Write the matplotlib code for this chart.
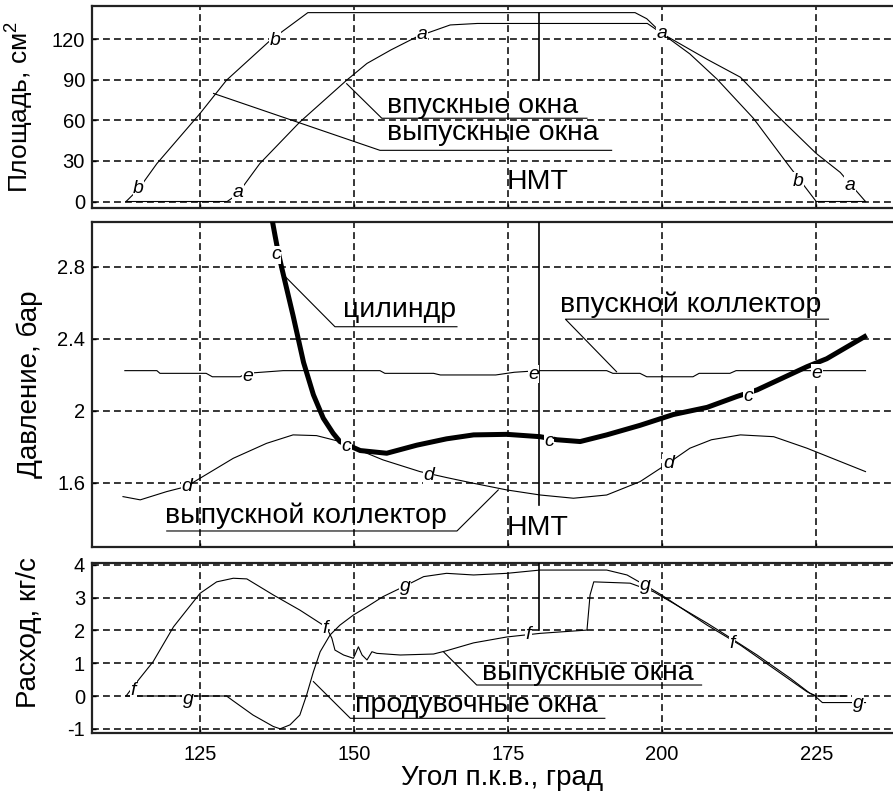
import numpy as np
import matplotlib
matplotlib.use('Agg')
import matplotlib.pyplot as plt

plt.rcParams['font.family'] = ['Liberation Sans', 'DejaVu Sans']
plt.rcParams['mathtext.fontset'] = 'custom'
plt.rcParams['mathtext.rm'] = 'Liberation Sans'
plt.rcParams['axes.unicode_minus'] = False

# ---- top: window areas, cm2
a_x = [113, 129.4, 131, 134.7, 141.2, 148.8, 152.1, 156, 160.2, 165.6, 170, 197.6, 200,
       207.3, 212.7, 218.1, 225, 228.9, 233]
a_y = [0, 0, 5, 28, 58.7, 89.6, 102, 112, 121.7, 130.4, 131.5, 131.5, 124,
       105, 91.8, 66, 35.5, 21.5, 0]
b_x = [113, 115, 118, 125, 129.3, 136.4, 142.5, 195.6, 197.5, 200, 204.5, 208.9, 214.8,
       220.3, 225, 233]
b_y = [0, 9, 28, 65, 89.6, 119, 139.5, 139.5, 135, 124, 109, 90.4, 61.5, 28, 0, 0]

# ---- middle: pressures, bar
c_x = [136.5, 137.2, 137.7, 138.3, 140.1, 141.8, 143.4, 145, 146.6, 147.7, 151, 155.3,
       160.2, 165, 169.4, 174.8, 180.2, 182.9, 186.7, 191, 196.4, 201.8, 207.3, 212.1,
       215.4, 223.5, 226.7, 233.2]
c_y = [3.1, 2.97, 2.88, 2.79, 2.53, 2.27, 2.09, 1.96, 1.876, 1.83, 1.78, 1.765,
       1.81, 1.845, 1.867, 1.87, 1.857, 1.84, 1.83, 1.867, 1.92, 1.98, 2.02, 2.08,
       2.117, 2.246, 2.29, 2.42]
e_x = [112.8, 118, 118.5, 126, 127, 131.5, 132.5, 138.5, 154.2, 155, 162.9, 164, 173,
       176, 180, 191, 192, 196.4, 197.5, 205, 206, 211, 212, 233]
e_y = [2.224, 2.224, 2.209, 2.209, 2.19, 2.19, 2.209, 2.224, 2.224, 2.209, 2.209, 2.2,
       2.2, 2.215, 2.224, 2.224, 2.209, 2.209, 2.19, 2.19, 2.209, 2.209, 2.224, 2.224]
d_x = [112.5, 115.3, 119.6, 122.8, 125, 130.4, 135.8, 140.1, 143.9, 147.7, 151, 154.7,
       160.7, 165, 169.4, 174.8, 180.2, 185.6, 191, 196.4, 201, 204.5, 208, 212.7,
       218.1, 223.5, 233]
d_y = [1.524, 1.506, 1.552, 1.58, 1.626, 1.737, 1.82, 1.867, 1.863, 1.83, 1.78, 1.728,
       1.663, 1.63, 1.598, 1.561, 1.533, 1.515, 1.533, 1.607, 1.71, 1.793, 1.84, 1.867,
       1.857, 1.793, 1.663]

# ---- bottom: mass flow, kg/s
f_x = [113, 114, 117.4, 120.7, 125, 127.7, 130.4, 132.6, 136.9, 141.2, 144.5, 145.5,
       146.4, 146.9, 148.3, 149.9, 150.7, 151.3, 152.1, 152.9, 153.7, 157.5, 162.9,
       165, 169.4, 174.8, 180.2, 187.8, 188.3, 188.9, 194.8, 198.6, 201.8, 207.3,
       211.1, 215.4, 220.8, 224, 225, 230]
f_y = [0, 0.25, 1.05, 2.11, 3.13, 3.48, 3.59, 3.57, 3.08, 2.62, 2.22, 2.1,
       1.76, 1.4, 1.25, 1.15, 1.5, 1.25, 1.1, 1.35, 1.3, 1.25, 1.28,
       1.38, 1.62, 1.8, 1.91, 2.01, 3.08, 3.48, 3.44, 3.18, 2.83, 2.22,
       1.77, 1.25, 0.54, 0.08, 0, 0]
g_x = [113, 125, 129.3, 130.4, 133.6, 136.9, 138, 139.6, 141.2, 142.3, 143.4, 144.5,
       146.1, 147.7, 149.9, 152.1, 154.7, 158, 161.3, 165, 169.4, 174.8, 180.2, 191,
       194.3, 197.2, 199.9, 207.3, 212.7, 218.1, 223.5, 224.6, 226, 233]
g_y = [0, 0, 0, -0.15, -0.58, -0.93, -1.0, -0.88, -0.58, 0.03, 0.74, 1.35,
       1.86, 2.16, 2.47, 2.72, 3.03, 3.33, 3.64, 3.74, 3.69, 3.74, 3.84, 3.84,
       3.69, 3.38, 3.08, 2.16, 1.55, 0.84, 0.13, 0.03, -0.2, -0.2]

# curve letters: (x, y, letter)
top_letters = [(115, 9.6, 'b'), (137.2, 119, 'b'), (131.2, 6.9, 'a'), (161, 123, 'a'),
               (199.9, 124, 'a'), (222.1, 15, 'b'), (230.5, 12, 'a')]
mid_letters = [(137.3, 2.867, 'c'), (148.8, 1.80, 'c'), (181.6, 1.83, 'c'), (214.0, 2.08, 'c'),
               (132.8, 2.19, 'e'), (179.1, 2.204, 'e'), (225.1, 2.21, 'e'),
               (122.8, 1.58, 'd'), (162.1, 1.644, 'd'), (201.0, 1.71, 'd')]
bot_letters = [(114.2, 0.18, 'f'), (145.3, 2.06, 'f'), (178.3, 1.86, 'f'), (211.3, 1.6, 'f'),
               (123.1, -0.12, 'g'), (158.3, 3.33, 'g'), (197.2, 3.38, 'g'), (231.8, -0.22, 'g')]

# callouts: text, text x, text baseline y, leader x, leader y (last point ends the underline)
top_notes = [('впускные окна', 155.3, 65.2, [148.8, 154.5, 187.8], [87, 61.5, 61.5]),
             ('выпускные окна', 155.3, 45.2, [127.2, 154.2, 191.8], [79.8, 37.8, 37.8])]
mid_notes = [('цилиндр', 148.2, 2.524, [138.3, 146.9, 166.7], [2.765, 2.468, 2.468]),
             ('впускной коллектор', 183.4, 2.55, [192.6, 184.3, 227.0], [2.218, 2.51, 2.51]),
             ('выпускной коллектор', 119.3, 1.378, [173.4, 166.7, 119.6], [1.561, 1.333, 1.333])]
bot_notes = [('выпускные окна', 170.7, 0.49, [164.5, 169.9, 206.4], [1.35, 0.335, 0.335]),
             ('продувочные окна', 150.2, -0.48, [143.4, 149.4, 190.7], [0.44, -0.68, -0.68])]

bdc = 180
xticks = [125, 150, 175, 200, 225]

fig = plt.figure(figsize=(8.93, 7.97), dpi=100)
L, W = 92/893, 808/893
ax1 = fig.add_axes([L, 1-208/797, W, 202/797])
ax2 = fig.add_axes([L, 1-547/797, W, 325/797])
ax3 = fig.add_axes([L, 1-733/797, W, 170/797])

dash = (0, (4.5, 2.7))
for ax in (ax1, ax2, ax3):
    ax.set_xlim(107.47, 238.6)
    ax.set_xticks(xticks)
    ax.grid(True, color='k', lw=1.1, ls=dash, zorder=0)
    ax.set_axisbelow(True)
    ax.tick_params(direction='in', length=3, width=1, labelsize=14.5, colors='k', pad=5)
    for s in ax.spines.values():
        s.set_linewidth(1.6)
        s.set_color('#222222')
    ax.spines['right'].set_visible(False)

ax1.tick_params(labelbottom=False)
ax2.tick_params(labelbottom=False)
ax3.tick_params(axis='x', pad=9)

def letters(ax, items):
    for x, y, s in items:
        ax.text(x, y, s, style='italic', fontsize=14, ha='center', va='center', zorder=6,
                bbox=dict(fc='white', ec='none', pad=0.3))

def notes(ax, items):
    for s, tx, ty, lx, ly in items:
        ax.plot(lx, ly, color='k', lw=0.8, zorder=4)
        ax.text(tx, ty, s, fontsize=20.5, ha='left', va='baseline', zorder=6)

# top
ax1.plot(b_x, b_y, color='k', lw=0.8, zorder=3)
ax1.plot(a_x, a_y, color='k', lw=0.8, zorder=3)
ax1.plot([bdc, bdc], [90, 139.5], color='k', lw=1.2, zorder=3)
ax1.text(179.7, 9.6, 'НМТ', fontsize=20.5, ha='center', va='baseline')
letters(ax1, top_letters)
notes(ax1, top_notes)
ax1.set_ylim(-4.8, 144.4)
ax1.set_yticks([0, 30, 60, 90, 120])
ax1.set_ylabel('Площадь, см$^2$', fontsize=19)
ax1.yaxis.set_label_coords(-0.07, 0.5)

# middle
ax2.plot(e_x, e_y, color='k', lw=0.8, zorder=3)
ax2.plot(d_x, d_y, color='k', lw=0.8, zorder=3)
ax2.plot(c_x, c_y, color='k', lw=3.6, zorder=3, solid_capstyle='butt')
ax2.plot([bdc, bdc], [1.478, 3.1], color='k', lw=1.2, zorder=3)
ax2.text(179.7, 1.311, 'НМТ', fontsize=20.5, ha='center', va='baseline')
letters(ax2, mid_letters)
notes(ax2, mid_notes)
ax2.set_ylim(1.244, 3.05)
ax2.set_yticks([1.6, 2.0, 2.4, 2.8])
ax2.set_yticklabels(['1.6', '2', '2.4', '2.8'])
ax2.set_ylabel('Давление, бар', fontsize=20)
ax2.yaxis.set_label_coords(-0.061, 0.5)

# bottom
ax3.plot(f_x, f_y, color='k', lw=0.8, zorder=3)
ax3.plot(g_x, g_y, color='k', lw=0.8, zorder=3)
ax3.plot([bdc, bdc], [2.0, 4.1], color='k', lw=1.2, zorder=3)
letters(ax3, bot_letters)
notes(ax3, bot_notes)
ax3.set_ylim(-1.128, 4.055)
ax3.set_yticks([-1, 0, 1, 2, 3, 4])
ax3.set_ylabel('Расход, кг/с', fontsize=20)
ax3.yaxis.set_label_coords(-0.062, 0.594)
ax3.set_xlabel('Угол п.к.в., град', fontsize=20)
ax3.xaxis.set_label_coords(0.508, -0.19)

fig.savefig('out.png', dpi=100)
